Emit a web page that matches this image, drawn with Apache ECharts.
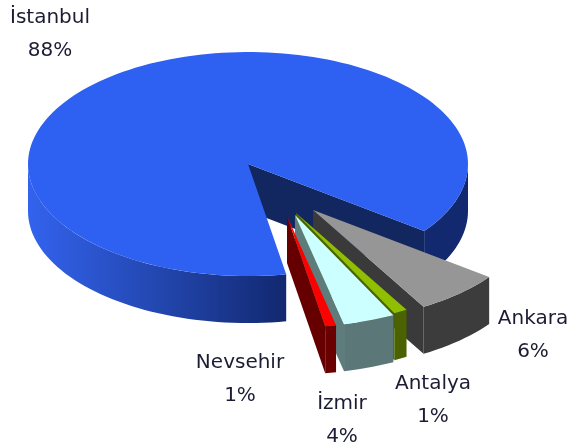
<!DOCTYPE html>
<html>
<head>
<meta charset="utf-8">
<style>
  html, body { margin: 0; padding: 0; background: #fff; }
  #chart { width: 571px; height: 447px; filter: blur(0.5px); }
</style>
<script src="https://cdn.jsdelivr.net/npm/echarts@6/dist/echarts.min.js"></script>
</head>
<body>
<div id="chart"></div>
<script>
const categories = ['İstanbul', 'Ankara', 'Antalya', 'İzmir', 'Nevsehir']
const shares = [88, 6.4, 1, 3.8, 0.8]

// look of each slice, same order as categories
const topColors = ['#2e60f2', '#969696', '#8fbf00', '#ccffff', '#ff0000']
const cutColors = ['#12265f', '#3a3a3a', '#4a6300', '#5f7c7c', '#660000']
const wallColors = [
  ['#3363ee', '#2347b0', '#12286f'],
  ['#484848', '#404040', '#3c3c3c'],
  ['#4d6600', '#4f6b00', '#4a6300'],
  ['#4f6a6a', '#5f7c7c', '#5b7777'],
  ['#780000', '#720000', '#6a0000']
]
const explode = [[0, 0], [65, 46], [48, 49], [47, 51], [39, 52]]
const labelAt = [[50, 18], [533, 319], [433, 384], [342, 404], [240, 363]]

const center = [248, 164]
const rx = 220
const ry = 112
const depth = 47
const startAngle = 80
const lineGap = 33

const total = shares.reduce((a, b) => a + b, 0)
const spans = []
let run = startAngle
shares.forEach(v => {
  spans.push([run, run + v / total * 360])
  run += v / total * 360
})

function onRim(deg, ox, oy, drop) {
  const a = deg * Math.PI / 180
  return [ox + rx * Math.cos(a), oy + ry * Math.sin(a) + drop]
}

function arcPoints(from, to, ox, oy, drop) {
  const pts = []
  const n = Math.max(2, Math.ceil((to - from) / 2))
  for (let i = 0; i <= n; i++) {
    pts.push(onRim(from + (to - from) * i / n, ox, oy, drop))
  }
  return pts
}

// the parts of the rim that face the viewer (sin > 0)
function frontArcs(from, to) {
  const out = []
  for (let k = 0; k < 2; k++) {
    const lo = Math.max(from, k * 360)
    const hi = Math.min(to, k * 360 + 180)
    if (hi > lo) out.push([lo, hi])
  }
  return out
}

function renderSlice(params, api) {
  const i = params.dataIndex
  const [a0, a1] = spans[i]
  const ox = center[0] + explode[i][0]
  const oy = center[1] + explode[i][1]
  const children = []

  // cut face on the clockwise end of the slice
  const rimEnd = onRim(a1, ox, oy, 0)
  children.push({
    type: 'polygon',
    shape: { points: [[ox, oy], rimEnd, [rimEnd[0], rimEnd[1] + depth], [ox, oy + depth]] },
    style: { fill: cutColors[i] }
  })

  // outer wall
  frontArcs(a0, a1).forEach(([lo, hi]) => {
    const upper = arcPoints(lo, hi, ox, oy, 0)
    const lower = arcPoints(lo, hi, ox, oy, depth).reverse()
    const c = wallColors[i]
    const fill = lo >= 360
      ? c[2]
      : new echarts.graphic.LinearGradient(1, 0, 0, 0, [
        { offset: 0, color: c[2] },
        { offset: 0.5, color: c[1] },
        { offset: 1, color: c[0] }
      ])
    children.push({ type: 'polygon', shape: { points: upper.concat(lower) }, style: { fill } })
  })

  // top face
  children.push({
    type: 'polygon',
    shape: { points: [[ox, oy]].concat(arcPoints(a0, a1, ox, oy, 0)) },
    style: { fill: topColors[i] }
  })

  const pct = Math.round(api.value(0) / total * 100) + '%'
  const [lx, ly] = labelAt[i]
  ;[categories[i], pct].forEach((t, j) => {
    children.push({
      type: 'text',
      z2: 10,
      style: {
        x: lx,
        y: ly + j * lineGap,
        text: t,
        fill: '#1c1c34',
        font: '20px "DejaVu Sans"',
        align: 'center',
        verticalAlign: 'middle'
      }
    })
  })

  return { type: 'group', children }
}

const chart = echarts.init(document.getElementById('chart'))
chart.setOption({
  animation: false,
  backgroundColor: '#fff',
  series: [{
    type: 'custom',
    coordinateSystem: 'none',
    silent: true,
    renderItem: renderSlice,
    data: shares.map(v => [v])
  }]
})
</script>
</body>
</html>
